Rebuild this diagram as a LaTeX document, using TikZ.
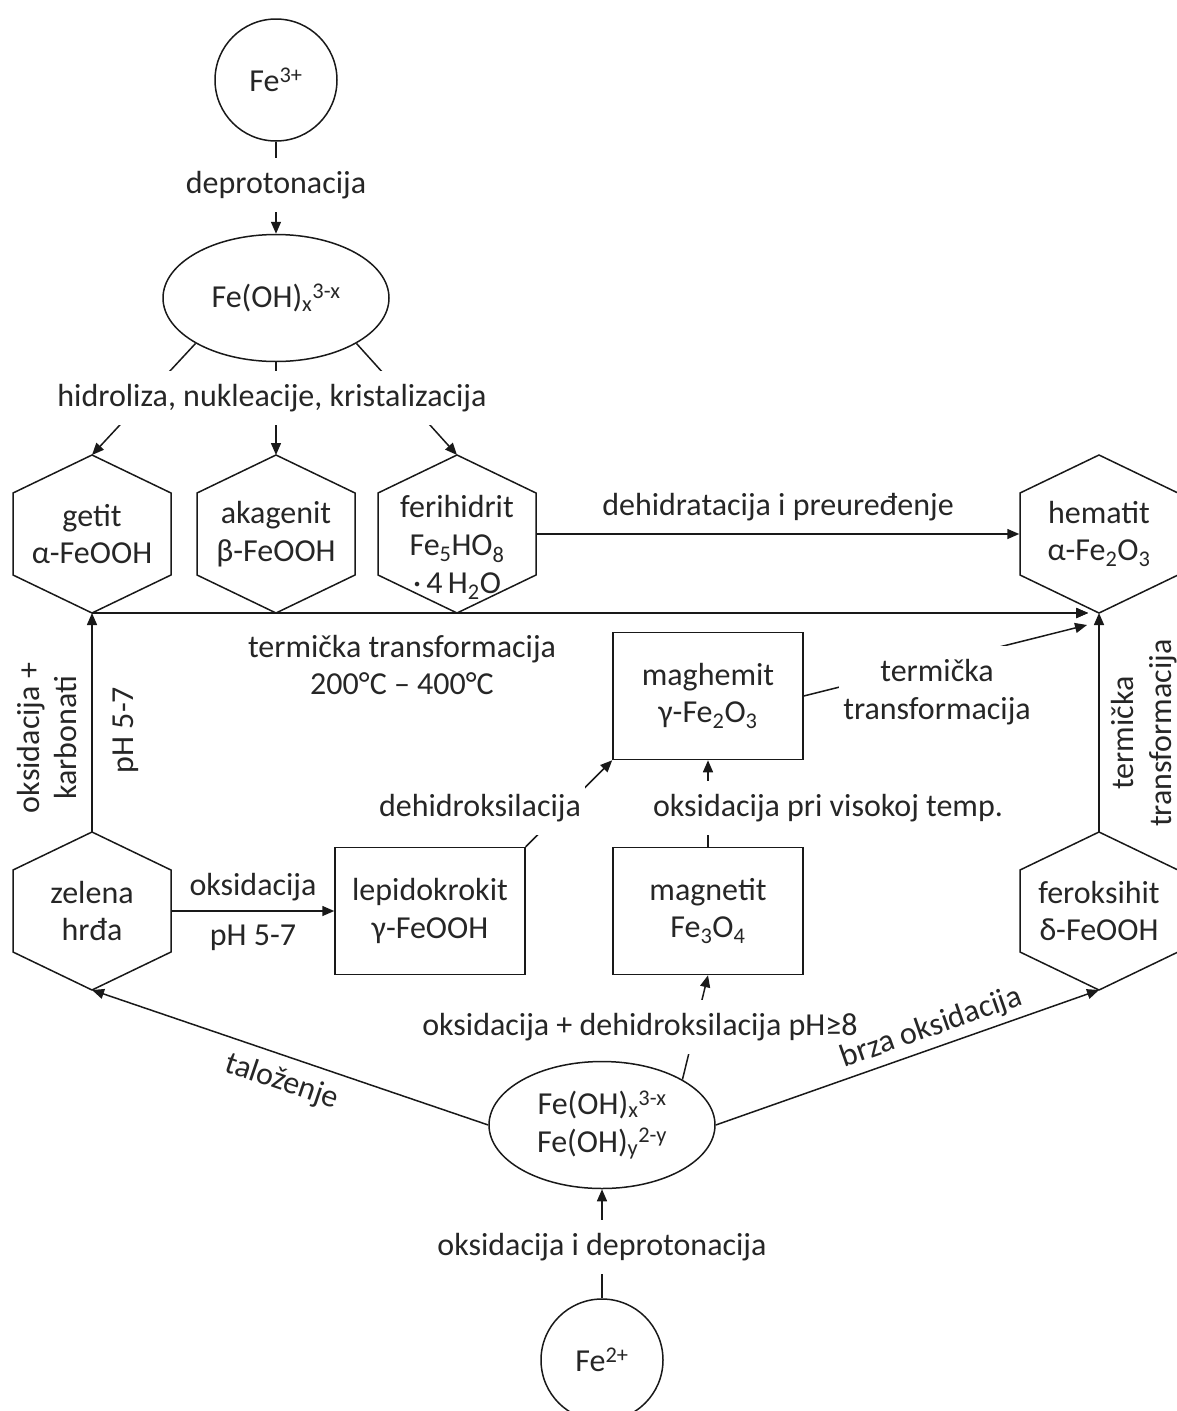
\documentclass[tikz,border=0pt]{standalone}
\usepackage{fontspec}
\setmainfont{Carlito}
\usetikzlibrary{shapes.geometric, arrows.meta, calc}

\begin{document}
\begin{tikzpicture}[x=1pt, y=-1pt, line width=1.5pt, draw=black!90, text=black!85,
    font=\fontsize{32}{37.8}\selectfont,
    arr/.style = {-{Triangle[length=12pt, width=10pt]}},
    ion/.style = {draw, circle, minimum size=122, inner sep=0pt},
    oval/.style = {draw, ellipse, minimum width=226, minimum height=127, inner sep=0pt, align=center},
    hexa/.style = {align=center, inner sep=0pt, minimum width=158, minimum height=158},
    box/.style = {draw, rectangle, minimum width=190, minimum height=127, align=center},
    lbl/.style = {fill=white, inner xsep=4pt, inner ysep=13pt, align=center}]
    % frame of the page
    \useasboundingbox (0,0) rectangle (1176,1411);

    % Nodes
    \node[ion] (fe3) at (276,80) {Fe\textsuperscript{3+}};
    \node[oval] (ell1) at (276,298) {Fe(OH)\textsubscript{x}\textsuperscript{3-x}};
    \node[hexa] (getit) at (92,534) {getit\\α-FeOOH};
    \node[hexa] (akagenit) at (276,534) {akagenit\\β-FeOOH};
    \node[hexa] (ferihidrit) at (457,534) {\rule{0pt}{11pt}\\ferihidrit\\Fe\textsubscript{5}HO\textsubscript{8}\\·\,4\,H\textsubscript{2}O};
    \node[hexa] (hematit) at (1099,534) {hematit\\α-Fe\textsubscript{2}O\textsubscript{3}};
    \node[box] (maghemit) at (708,696) {maghemit\\γ-Fe\textsubscript{2}O\textsubscript{3}};
    \node[hexa] (zelena) at (92,911) {zelena\\hrđa};
    \node[box] (lepido) at (430,911) {lepidokrokit\\γ-FeOOH};
    \node[box] (magnetit) at (708,911) {magnetit\\Fe\textsubscript{3}O\textsubscript{4}};
    \node[hexa] (feroksihit) at (1099,911) {feroksihit\\δ-FeOOH};
    \node[oval] (ell2) at (602,1125) {Fe(OH)\textsubscript{x}\textsuperscript{3-x}\\Fe(OH)\textsubscript{y}\textsuperscript{2-y}};
    \node[ion] (fe2) at (602,1360) {Fe\textsuperscript{2+}};

    % Hexagons round the mineral nodes
    \foreach \h in {getit,akagenit,ferihidrit,hematit,zelena,feroksihit}
        \draw (\h.center) ++(0,-79) coordinate (\h-t) -- ++(79,38) -- ++(0,82)
            -- ++(-79,38) coordinate (\h-b) -- ++(-79,-38) -- ++(0,-82) -- cycle;
    \coordinate (hemin) at ($(hematit-b)+(-11,0)$);
    \coordinate (hemin2) at ($(hematit-b)+(-12,12)$);

    % Lines
    \draw[arr] (fe3) -- (ell1);
    \draw[arr] (ell1.south west) -- (getit-t);
    \draw[arr] (ell1.south) -- (akagenit-t);
    \draw[arr] (ell1.south east) -- (ferihidrit-t);
    \draw[arr] (ferihidrit) -- node[above=9pt] {dehidratacija i preuređenje} (hematit);
    \draw[arr] (getit-b) -- (hemin);
    \draw[arr] (akagenit-b) -- (hemin);
    \draw[arr] (ferihidrit-b) -- (hemin);
    \draw[arr] (zelena-t) -- (getit-b);
    \draw[arr] (zelena) -- node[above=6pt] {oksidacija} node[below=10pt] {pH 5-7} (lepido);
    \draw[arr] (lepido.north east) -- (maghemit.south west);
    \draw[arr] (magnetit) -- (maghemit);
    \draw[arr] (maghemit.east) -- (hemin2);
    \draw[arr] (feroksihit-t) -- (hematit-b);
    \draw[arr] (ell2.west) -- node[sloped, below=8pt] {taloženje} (zelena-b);
    \draw[arr] (ell2.north east) -- (magnetit.south);
    \draw[arr] (fe2) -- (ell2);

    % Labels over the lines
    \node[lbl] (l-deprot) at (276,185) {deprotonacija};
    \node[lbl] (l-hidro) at (272,398) {hidroliza, nukleacije, kristalizacija};
    \node[lbl] (l-dehidrok) at (480,808) {dehidroksilacija};
    \node[lbl] (l-oksvis) at (828,808) {oksidacija pri visokoj temp.};
    \node[lbl] (l-term2) at (937,692) {termička\\transformacija};
    \node[lbl] (l-oksdeh) at (640,1027) {oksidacija + dehidroksilacija pH≥8};
    \node[lbl] (l-oksdep) at (602,1247) {oksidacija i deprotonacija};
    \node[align=center] (l-term1) at (402,665) {termička transformacija\\200°C – 400°C};
    \node[rotate=90, align=center] (l-okskarb) at (47,738) {oksidacija +\\karbonati};
    \node[rotate=90] (l-ph) at (126,730) {pH 5-7};
    \node[rotate=90, align=center] (l-term3) at (1144,733) {termička\\transformacija};

    % fast oxidation, drawn last so no label covers it
    \draw[arr] (ell2.east) -- node[pos=0.58, sloped, above=2pt] {brza oksidacija} (feroksihit-b);
\end{tikzpicture}
\end{document}
